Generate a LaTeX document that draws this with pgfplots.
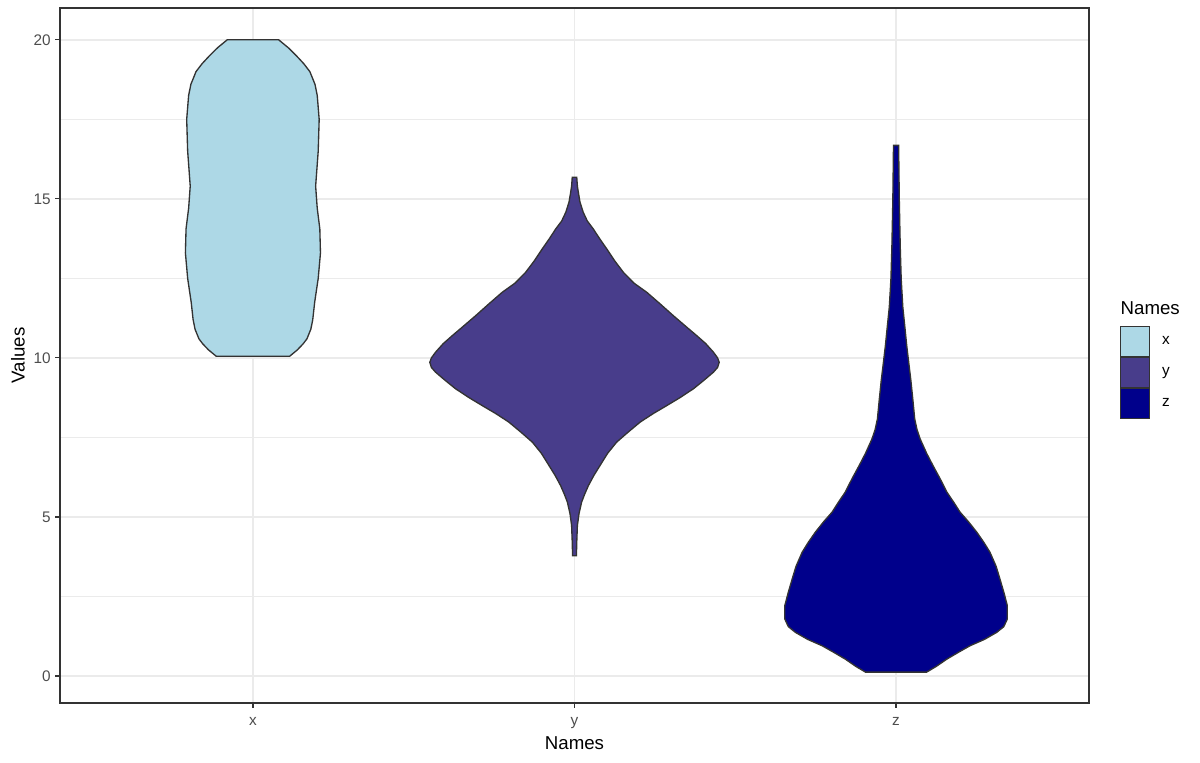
\documentclass[border=0pt]{standalone}
\usepackage{pgfplots}
\pgfplotsset{compat=1.18}
\usepackage{fontspec}
\setmainfont{Liberation Sans}
\definecolor{vx}{RGB}{173,216,230}
\definecolor{vy}{RGB}{72,61,139}
\definecolor{vz}{RGB}{0,0,139}
\definecolor{grey20}{RGB}{51,51,51}
\definecolor{grey30}{RGB}{77,77,77}
\definecolor{grey92}{RGB}{235,235,235}

\begin{document}
\begin{tikzpicture}
\path[use as bounding box] (-45pt,-45pt) rectangle (855pt,527.25pt);
\begin{axis}[
  at={(0,0)}, anchor=south west,
  scale only axis, width=771.75pt, height=521.25pt,
  clip=false,
  xmin=0.4, xmax=3.6, ymin=-0.85, ymax=21.0,
  xtick={1,2,3}, xticklabels={x,y,z},
  ytick={0,5,10,15,20}, minor ytick={2.5,7.5,12.5,17.5},
  grid=both,
  major grid style={grey92, line width=1.1pt},
  minor grid style={grey92, line width=0.55pt},
  axis line style={grey20, line width=1pt},
  tick style={grey20, line width=0.9pt},
  major tick length=3.5pt, minor tick length=0pt,
  tick align=outside, tick pos=left,
  /pgf/number format/assume math mode=true,
  ticklabel style={font=\fontsize{11.5}{13}\selectfont, text=grey30},
  xticklabel style={yshift=-4pt},
  xlabel={Names}, ylabel={Values},
  every axis x label/.style={at={(axis description cs:0.5,-0.0576)}, anchor=center, font=\fontsize{14}{16}\selectfont},
  every axis y label/.style={at={(axis description cs:-0.0408,0.5)}, anchor=center, rotate=90, font=\fontsize{14}{16}\selectfont},
  legend style={at={(axis description cs:1.0301,0.5424)}, anchor=north west, draw=none, fill=none,
    inner sep=0pt, row sep=0pt, column sep=7pt, font=\fontsize{11.5}{13}\selectfont,
    cells={anchor=west}},
  legend image code/.code={\draw[#1, line width=0.7pt] (0pt,-11.25pt) rectangle (21.75pt,11.25pt);},
]
\addplot[fill=vx, draw=grey20, line width=1pt] coordinates {
(1.080,20.0)(1.110,19.75)(1.135,19.5)(1.158,19.25)(1.177,19.0)(1.193,18.6)(1.200,18.25)(1.206,17.5)(1.203,16.5)(1.195,15.4)(1.200,14.7)(1.208,14.06)(1.210,13.3)(1.203,12.5)(1.192,11.75)(1.186,11.2)(1.180,10.9)(1.168,10.6)(1.156,10.44)(1.138,10.25)(1.114,10.05)
(0.886,10.05)(0.862,10.25)(0.844,10.44)(0.832,10.6)(0.820,10.9)(0.814,11.2)(0.808,11.75)(0.797,12.5)(0.790,13.3)(0.792,14.06)(0.800,14.7)(0.805,15.4)(0.797,16.5)(0.794,17.5)(0.800,18.25)(0.807,18.6)(0.823,19.0)(0.842,19.25)(0.865,19.5)(0.890,19.75)(0.920,20.0)
} -- cycle;
\addlegendentry{x}

\addplot[fill=vy, draw=grey20, line width=1pt] coordinates {
(2.007,15.68)(2.009,15.4)(2.012,15.2)(2.017,14.9)(2.027,14.58)(2.040,14.3)(2.058,14.06)(2.078,13.75)(2.100,13.43)(2.125,13.05)(2.152,12.69)(2.185,12.35)(2.225,12.06)(2.266,11.7)(2.307,11.33)(2.345,11.0)(2.380,10.70)(2.408,10.45)(2.432,10.18)(2.445,10.0)(2.450,9.86)(2.445,9.7)(2.432,9.55)(2.403,9.3)(2.370,9.03)(2.328,8.75)(2.287,8.5)(2.245,8.25)(2.204,7.98)(2.165,7.65)(2.131,7.35)(2.103,7.0)(2.079,6.61)(2.060,6.3)(2.043,5.98)(2.031,5.7)(2.022,5.46)(2.014,5.1)(2.009,4.73)(2.007,4.2)(2.006,3.78)
(1.994,3.78)(1.993,4.2)(1.991,4.73)(1.986,5.1)(1.978,5.46)(1.969,5.7)(1.957,5.98)(1.940,6.3)(1.921,6.61)(1.897,7.0)(1.869,7.35)(1.835,7.65)(1.796,7.98)(1.755,8.25)(1.713,8.5)(1.672,8.75)(1.630,9.03)(1.597,9.3)(1.568,9.55)(1.555,9.7)(1.550,9.86)(1.555,10.0)(1.568,10.18)(1.592,10.45)(1.620,10.70)(1.655,11.0)(1.693,11.33)(1.734,11.7)(1.775,12.06)(1.815,12.35)(1.848,12.69)(1.875,13.05)(1.900,13.43)(1.922,13.75)(1.942,14.06)(1.960,14.3)(1.973,14.58)(1.983,14.9)(1.988,15.2)(1.991,15.4)(1.993,15.68)
} -- cycle;
\addlegendentry{y}

\addplot[fill=vz, draw=grey20, line width=1pt] coordinates {
(3.008,16.68)(3.010,15.0)(3.013,13.5)(3.016,12.48)(3.021,11.6)(3.028,10.91)(3.033,10.4)(3.038,9.97)(3.046,9.3)(3.052,8.71)(3.058,8.08)(3.065,7.75)(3.075,7.45)(3.095,7.0)(3.115,6.61)(3.137,6.2)(3.158,5.78)(3.180,5.45)(3.199,5.15)(3.225,4.85)(3.251,4.52)(3.273,4.2)(3.292,3.89)(3.311,3.45)(3.323,3.05)(3.336,2.6)(3.346,2.21)(3.346,1.79)(3.335,1.55)(3.313,1.37)(3.275,1.15)(3.230,0.95)(3.195,0.75)(3.158,0.53)(3.125,0.3)(3.095,0.12)
(2.905,0.12)(2.875,0.3)(2.842,0.53)(2.805,0.75)(2.770,0.95)(2.725,1.15)(2.687,1.37)(2.665,1.55)(2.654,1.79)(2.654,2.21)(2.664,2.6)(2.677,3.05)(2.689,3.45)(2.708,3.89)(2.727,4.2)(2.749,4.52)(2.775,4.85)(2.801,5.15)(2.820,5.45)(2.842,5.78)(2.863,6.2)(2.885,6.61)(2.905,7.0)(2.925,7.45)(2.935,7.75)(2.942,8.08)(2.948,8.71)(2.954,9.3)(2.962,9.97)(2.967,10.4)(2.972,10.91)(2.979,11.6)(2.984,12.48)(2.987,13.5)(2.990,15.0)(2.992,16.68)
} -- cycle;
\addlegendentry{z}

\node[anchor=west, font=\fontsize{14}{16}\selectfont] at (axis description cs:1.0262,0.5683) {Names};
\end{axis}
\end{tikzpicture}
\end{document}
